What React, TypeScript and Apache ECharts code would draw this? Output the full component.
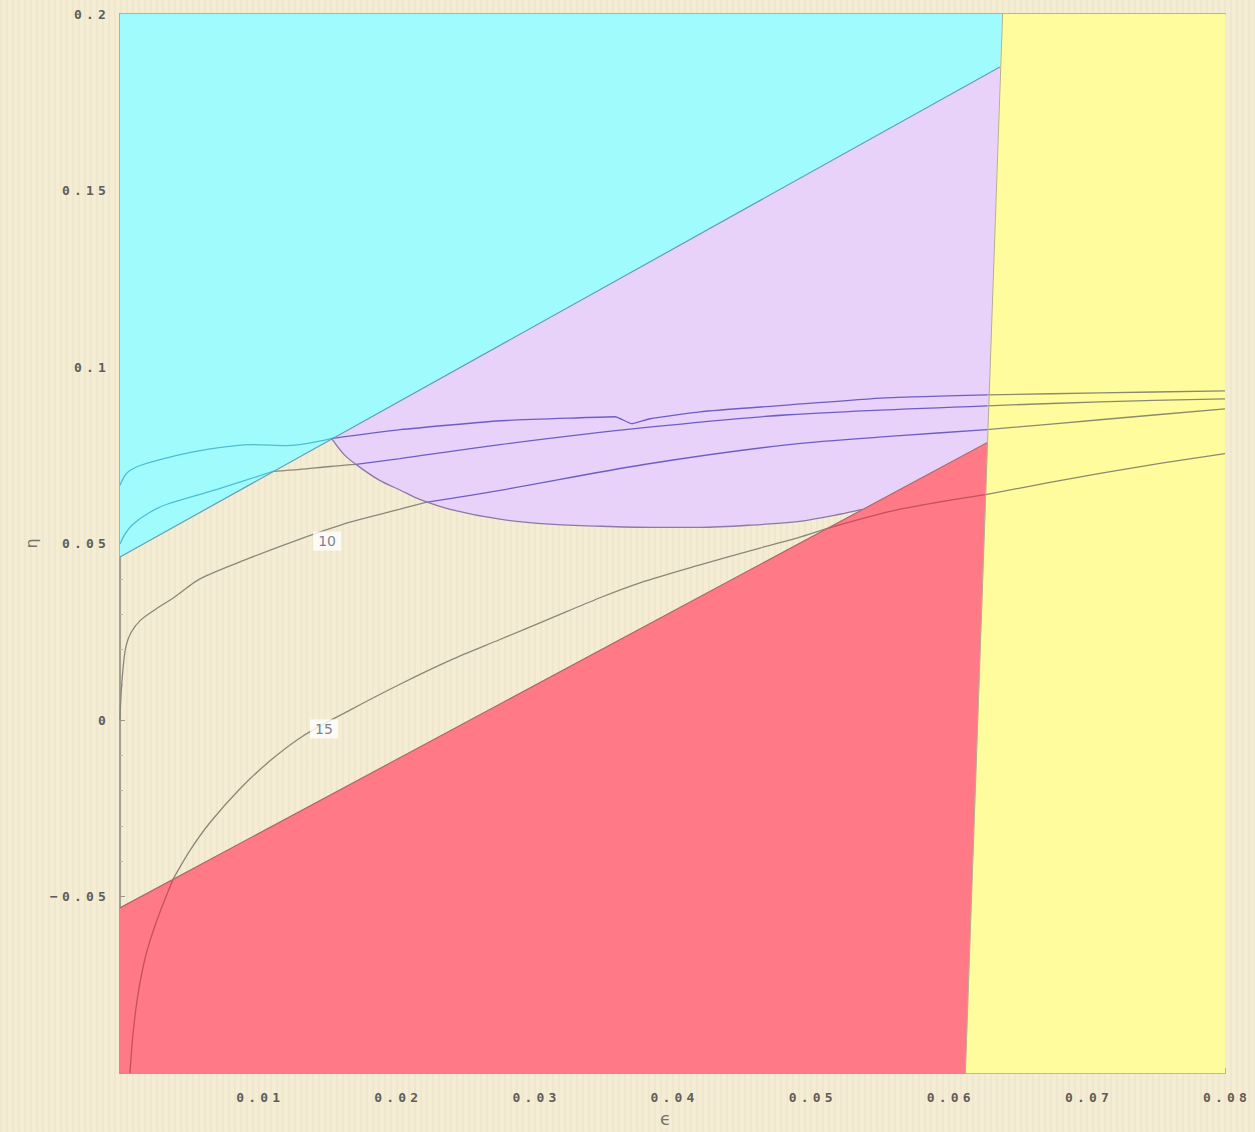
import React, { useEffect, useRef } from "react";
import * as echarts from "echarts";

// ---- axis ranges / ticks ----
const X_MIN = 0;
const X_MAX = 0.08;
const X_STEP = 0.01;
const Y_MIN = -0.1;
const Y_MAX = 0.2;
const Y_STEP = 0.05;

// ---- region polygons (data coords) ----
const cyanRegion = [[0, 0.2], [0.0639, 0.2], [0.0637, 0.185], [0, 0.0462]];
const yellowRegion = [[0.0639, 0.2], [0.08, 0.2], [0.08, -0.1], [0.0612, -0.1]];
const redRegion = [[0, -0.1], [0, -0.0532], [0.0628, 0.0786], [0.0612, -0.1]];
const purpleTop = [[0.01535, 0.0796], [0.0637, 0.185], [0.0628, 0.0786]];
const purpleBottom = [
  [0.01535, 0.0796], [0.0163, 0.0749], [0.0174, 0.0715], [0.0188, 0.0679], [0.0203, 0.0651],
  [0.0217, 0.0625], [0.0239, 0.0597], [0.0275, 0.0569], [0.0311, 0.0555], [0.0348, 0.0549],
  [0.0384, 0.0546], [0.042, 0.0546], [0.0456, 0.0552], [0.0492, 0.0563], [0.0521, 0.0583],
  [0.0537, 0.0597],
];

// ---- region edges ----
const cyanEdge = [[0, 0.0462], [0.0637, 0.185]];
const redEdge = [[0, -0.0532], [0.0628, 0.0786]];
const yellowEdge = [[0.0612, -0.1], [0.0639, 0.2]];

// ---- contour lines, split by region ----
const lineA_cyan = [[0, 0.06648], [0.00036, 0.0693], [0.00072, 0.0707], [0.00145, 0.07211], [0.0029, 0.0738], [0.00579, 0.07634], [0.00963, 0.07803], [0.01209, 0.07775], [0.01528, 0.07972]];
const lineA_purple = [[0.01528, 0.07972], [0.02027, 0.08225], [0.02751, 0.08479], [0.0333, 0.08563], [0.03584, 0.08592], [0.03707, 0.08394], [0.03837, 0.08535], [0.04199, 0.08732], [0.04851, 0.0893], [0.05538, 0.09127], [0.06277, 0.09211]];
const lineA_yellow = [[0.06277, 0.09211], [0.07095, 0.09268], [0.08, 0.09324]];

const lineB_cyan = [[0, 0.04986], [0.00036, 0.05268], [0.00094, 0.05549], [0.00217, 0.05887], [0.0034, 0.06113], [0.00702, 0.06535], [0.01108, 0.07042]];
const lineB_beige = [[0.01108, 0.07042], [0.01303, 0.07099], [0.0152, 0.07183], [0.01709, 0.0724]];
const lineB_purple = [[0.01709, 0.0724], [0.02027, 0.07408], [0.02751, 0.07803], [0.03794, 0.08282], [0.04843, 0.08648], [0.06277, 0.08901]];
const lineB_yellow = [[0.06277, 0.08901], [0.07095, 0.09014], [0.08, 0.09099]];

const curve10_beige = [[0, 0], [0.00007, 0.00676], [0.00022, 0.01465], [0.00043, 0.02085], [0.0008, 0.02479], [0.00145, 0.02817], [0.00253, 0.03127], [0.00398, 0.03493], [0.00579, 0.04], [0.00941, 0.04592], [0.01303, 0.05127], [0.01665, 0.05606], [0.02027, 0.05972], [0.02215, 0.06169]];
const curve10_purple = [[0.02215, 0.06169], [0.02751, 0.06507], [0.03794, 0.07239], [0.04843, 0.07803], [0.05647, 0.08056], [0.06277, 0.08225]];
const curve10_yellow = [[0.06277, 0.08225], [0.07095, 0.08507], [0.08, 0.08817]];

const curve15_red1 = [[0.00072, -0.1], [0.00094, -0.08901], [0.0013, -0.07775], [0.00188, -0.06648], [0.00268, -0.05662], [0.00384, -0.04507]];
const curve15_beige = [[0.00384, -0.04507], [0.00507, -0.0369], [0.00652, -0.02901], [0.00869, -0.01944], [0.01086, -0.01155], [0.01325, -0.00451], [0.01665, 0.00282], [0.02027, 0.01014], [0.02389, 0.0169], [0.02751, 0.02282], [0.03113, 0.02873], [0.03475, 0.03465], [0.03765, 0.03887], [0.04199, 0.04394], [0.04633, 0.04873], [0.04923, 0.05183], [0.05104, 0.05408]];
const curve15_red2 = [[0.05104, 0.05408], [0.05647, 0.05972], [0.06277, 0.06394]];
const curve15_yellow = [[0.06277, 0.06394], [0.06733, 0.06732], [0.07095, 0.06986], [0.07529, 0.07268], [0.08, 0.07549]];

// ---- contour labels ----
const contourLabels = [
  { name: "10", value: [0.01499, 0.0507] },
  { name: "15", value: [0.01477, -0.0025] },
];

const C_CYAN = "#a0fcfc";
const C_PURPLE = "#e9d2fa";
const C_RED = "#ff7a86";
const C_YELLOW = "#fffc9e";

const L_CYAN = "#4fbcd4";
const L_BEIGE = "#8a887a";
const L_PURPLE = "#6e5ec4";
const L_YELLOW = "#8a8a6e";
const L_RED = "#c4505e";

function polySeries(points: number[][], fill: string) {
  return {
    type: "custom",
    silent: true,
    z: 1,
    data: [[points[0][0], points[0][1]]],
    renderItem: (_params: any, api: any) => ({
      type: "polygon",
      shape: { points: points.map((p) => api.coord(p)) },
      style: { fill, stroke: fill, lineWidth: 0.5 },
    }),
  };
}

function lineSeries(points: number[][], color: string, width = 1.3, smooth: number | boolean = 0.3, z = 3) {
  return {
    type: "line",
    data: points,
    showSymbol: false,
    silent: true,
    smooth,
    z,
    lineStyle: { color, width },
  };
}

const spaced = (s: string) => s.split("").map((ch) => `{c|${ch}}`).join("");
const fmtX = (v: number) => (Math.abs(v) < 1e-9 ? "" : spaced(String(+v.toFixed(2))));
const fmtY = (v: number) => {
  if (Math.abs(v - Y_MIN) < 1e-9) return "";
  const s = String(+v.toFixed(2));
  return spaced(v < 0 ? "\u2212" + s.slice(1) : s);
};

export default function App() {
  const ref = useRef<HTMLDivElement>(null);
  useEffect(() => {
    document.body.style.margin = "0";
    document.body.style.background = "#f4ecd3";
    document.documentElement.style.overflow = "hidden";
    document.body.style.overflow = "hidden";
    const chart = echarts.init(ref.current!, null, { renderer: "svg" });
    const richC = {
      c: {
        width: 12,
        align: "center",
        fontFamily: "DejaVu Sans Mono",
        fontWeight: "bold",
        fontSize: 13,
        color: "#605e58",
      },
    };
    const purpleRegion = [...purpleTop, ...purpleBottom.slice().reverse()];
    chart.setOption({
      animation: false,
      backgroundColor: "transparent",
      grid: { left: 120, top: 14, width: 1105, height: 1067 },
      xAxis: [
        {
          type: "value",
          min: X_MIN,
          max: X_MAX,
          interval: X_STEP,
          position: "bottom",
          axisLine: { show: true, onZero: false, lineStyle: { color: "#8a877c", width: 1.5 } },
          axisTick: { show: true, inside: true, length: 5, lineStyle: { color: "#9a978c" } },
          minorTick: { show: true, splitNumber: 5, length: 3, lineStyle: { color: "#b8b5a8" } },
          splitLine: { show: false },
          axisLabel: { margin: 18, formatter: fmtX, rich: richC },
          name: "\u03f5",
          nameLocation: "middle",
          nameGap: 34,
          nameTextStyle: { fontFamily: "DejaVu Sans", fontSize: 18, color: "#77746c", padding: [0, 14, 0, 0] },
        },
        {
          type: "value",
          min: X_MIN,
          max: X_MAX,
          interval: X_STEP,
          position: "top",
          axisLine: { show: true, onZero: false, lineStyle: { color: "#8a877c", width: 1.5 } },
          axisTick: { show: false },
          axisLabel: { show: false },
          splitLine: { show: false },
        },
      ],
      yAxis: {
        type: "value",
        min: Y_MIN,
        max: Y_MAX,
        interval: Y_STEP,
        axisLine: { show: true, onZero: false, lineStyle: { color: "#8a877c", width: 1.5 } },
        axisTick: { show: true, inside: true, length: 5, lineStyle: { color: "#9a978c" } },
        minorTick: { show: true, splitNumber: 5, length: 3, lineStyle: { color: "#b8b5a8" } },
        splitLine: { show: false },
        axisLabel: { margin: 12, formatter: fmtY, rich: richC },
        name: "\u03b7",
        nameLocation: "middle",
        nameGap: 80,
        nameRotate: 90,
        nameTextStyle: { fontFamily: "DejaVu Sans", fontSize: 16, color: "#77746c" },
      },
      series: [
        polySeries(cyanRegion, C_CYAN),
        polySeries(yellowRegion, C_YELLOW),
        polySeries(redRegion, C_RED),
        polySeries(purpleRegion, C_PURPLE),
        // contours
        lineSeries(lineA_cyan, L_CYAN),
        lineSeries(lineA_purple, L_PURPLE, 1.3, 0.15),
        lineSeries(lineA_yellow, L_YELLOW),
        lineSeries(lineB_cyan, L_CYAN),
        lineSeries(lineB_beige, L_BEIGE),
        lineSeries(lineB_purple, L_PURPLE),
        lineSeries(lineB_yellow, L_YELLOW),
        lineSeries(curve10_beige, L_BEIGE),
        lineSeries(curve10_purple, L_PURPLE),
        lineSeries(curve10_yellow, L_YELLOW),
        lineSeries(curve15_red1, L_RED),
        lineSeries(curve15_beige, L_BEIGE),
        lineSeries(curve15_red2, L_RED),
        lineSeries(curve15_yellow, L_YELLOW),
        // region edges
        lineSeries(cyanEdge, "#6a9cb4", 1.2, false, 4),
        lineSeries(redEdge, "#b06a6a", 1.2, false, 4),
        lineSeries(yellowEdge, "#b4b08a", 1, false, 4),
        lineSeries(purpleBottom, "#8a78a8", 1.3, 0.3, 4),
        {
          type: "scatter",
          data: contourLabels,
          symbolSize: 1,
          silent: true,
          z: 6,
          itemStyle: { color: "rgba(0,0,0,0)" },
          label: {
            show: true,
            position: "inside",
            formatter: (p: any) => p.name,
            backgroundColor: "#ffffff",
            padding: [3, 5, 2, 5],
            fontFamily: "DejaVu Sans",
            fontSize: 14,
            color: "#5c6070",
          },
        },
      ],
    });
    return () => chart.dispose();
  }, []);

  return (
    <div
      ref={ref}
      style={{
        width: 1255,
        height: 1132,
        background:
          "repeating-linear-gradient(90deg, rgba(120,100,60,0.035) 0px, rgba(120,100,60,0.035) 2px, rgba(255,255,255,0) 2px, rgba(255,255,255,0) 6px), #f4ecd3",
      }}
    />
  );
}
